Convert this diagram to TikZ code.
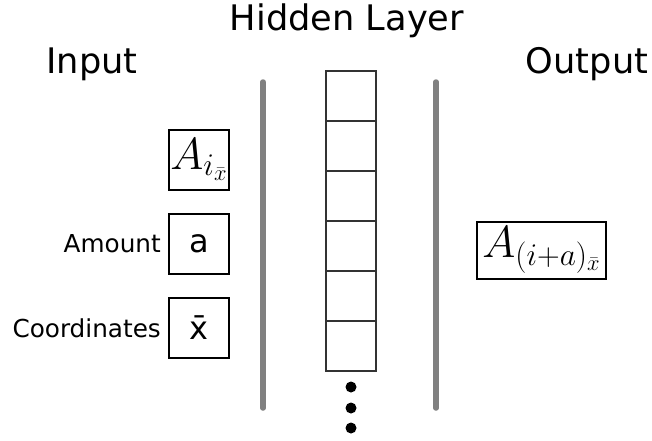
\RequirePackage{fix-cm}
\documentclass[tikz,border=0pt]{standalone}
\usepackage[no-math]{fontspec}
\setmainfont{DejaVu Sans}
\usetikzlibrary{positioning}

\begin{document}
\begin{tikzpicture}[x=1pt,y=-1pt,
	title/.style={anchor=base,font=\fontsize{35.2}{40}\selectfont},
	inbox/.style={draw,line width=2pt,minimum size=60pt,inner sep=0pt,font=\fontsize{32}{38}\selectfont},
	lbl/.style={inner sep=0pt,font=\fontsize{24.7}{28}\selectfont},
	cell/.style={draw,color=black!80,line width=2.4pt,minimum size=50pt,inner sep=0pt},
	dot/.style={circle,fill=black,minimum size=11pt,inner sep=0pt},
	bar/.style={line width=5.5pt,color=gray,line cap=round}]

		\useasboundingbox (0,0) rectangle (652,440);

		\node[title] (inTitle) at (92,73) {Input};
		\node[title] (hidTitle) at (347,30) {Hidden Layer};
		\node[title] (outTitle) at (587,73) {Output};

		% inputs
		\node[inbox,font=\fontsize{45}{50}\selectfont] (aix) at (199,159.5) {$A_{i_{\bar{x}}}$};
		\node[inbox] (amt) at (199,244) {a};
		\node[inbox] (crd) at (199,328) {x̄};
		\node[lbl,left=7pt of amt] (amtLbl) {Amount};
		\node[lbl,left=7pt of crd] (crdLbl) {Coordinates};

		% hidden layer
		\foreach \i in {1,...,6}
			\node[cell] (h\i) at (351,46+50*\i) {};
		\node[dot] (d1) at (351,387) {};
		\node[dot] (d2) at (351,408) {};
		\node[dot] (d3) at (351,428) {};

		\draw[bar] (263,82) -- (263,408);
		\draw[bar] (436,82) -- (436,408);

		% output
		\node[draw,line width=2pt,inner xsep=5.5pt,minimum height=57pt,font=\fontsize{45}{50}\selectfont] (out) at (541.5,250) {$A_{(i+a)_{\bar{x}}}$};

		\end{tikzpicture}
\end{document}
